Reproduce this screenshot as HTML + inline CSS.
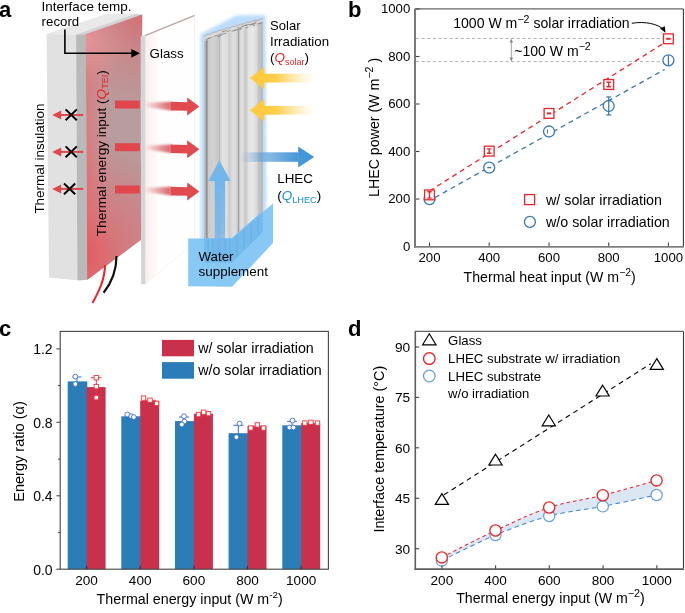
<!DOCTYPE html>
<html><head><meta charset="utf-8"><style>
html,body{margin:0;padding:0;background:#fff;overflow:hidden;}
svg{display:block;font-family:"Liberation Sans", sans-serif;will-change:transform;}
</style></head><body>
<svg width="685" height="613" viewBox="0 0 685 613">
<defs>
<radialGradient id="heatTR" gradientUnits="userSpaceOnUse" cx="142" cy="18" r="95">
  <stop offset="0" stop-color="#d9646a" stop-opacity="0.75"/>
  <stop offset="0.5" stop-color="#dc7074" stop-opacity="0.35"/>
  <stop offset="1" stop-color="#dc7074" stop-opacity="0"/>
</radialGradient>
<radialGradient id="heatBL" gradientUnits="userSpaceOnUse" cx="86" cy="255" r="120" fx="80" fy="255">
  <stop offset="0" stop-color="#e4585d" stop-opacity="0.95"/>
  <stop offset="0.4" stop-color="#e4646a" stop-opacity="0.55"/>
  <stop offset="1" stop-color="#e4646a" stop-opacity="0"/>
</radialGradient>
<linearGradient id="heatL" gradientUnits="userSpaceOnUse" x1="86" y1="0" x2="112" y2="0">
  <stop offset="0" stop-color="#e27074" stop-opacity="0.75"/>
  <stop offset="1" stop-color="#e08488" stop-opacity="0"/>
</linearGradient>
<radialGradient id="heatTL" gradientUnits="userSpaceOnUse" cx="88" cy="40" r="45">
  <stop offset="0" stop-color="#e6a9ab" stop-opacity="0.85"/>
  <stop offset="1" stop-color="#e3a3a5" stop-opacity="0"/>
</radialGradient>
<linearGradient id="fib" gradientUnits="userSpaceOnUse" x1="203.6" y1="0" x2="262.8" y2="0">
  <stop offset="0.0000" stop-color="#bdbdbd"/>
  <stop offset="0.0321" stop-color="#b0b0b0"/>
  <stop offset="0.0507" stop-color="#8e8e8e"/>
  <stop offset="0.0693" stop-color="#a8a8a8"/>
  <stop offset="0.0828" stop-color="#cbcbcb"/>
  <stop offset="0.1757" stop-color="#d2d2d2"/>
  <stop offset="0.2500" stop-color="#c6c6c6"/>
  <stop offset="0.2703" stop-color="#bbbbbb"/>
  <stop offset="0.2872" stop-color="#d6d6d6"/>
  <stop offset="0.3277" stop-color="#e2e2e2"/>
  <stop offset="0.4054" stop-color="#dcdcdc"/>
  <stop offset="0.4291" stop-color="#c8c8c8"/>
  <stop offset="0.4561" stop-color="#d4d4d4"/>
  <stop offset="0.5135" stop-color="#e0e0e0"/>
  <stop offset="0.5709" stop-color="#cfcfcf"/>
  <stop offset="0.5895" stop-color="#9c9c9c"/>
  <stop offset="0.6064" stop-color="#c8c8c8"/>
  <stop offset="0.6318" stop-color="#e2e2e2"/>
  <stop offset="0.6740" stop-color="#dadada"/>
  <stop offset="0.6993" stop-color="#c9c9c9"/>
  <stop offset="0.7331" stop-color="#d0d0d0"/>
  <stop offset="0.7584" stop-color="#e4e4e4"/>
  <stop offset="0.8345" stop-color="#e8e8e8"/>
  <stop offset="0.9020" stop-color="#d8d8d8"/>
  <stop offset="0.9274" stop-color="#c4c4c4"/>
  <stop offset="0.9696" stop-color="#bdbdbd"/>
  <stop offset="1.0000" stop-color="#b5b5b5"/>
</linearGradient>
<linearGradient id="yarr" x1="0" y1="0" x2="1" y2="0">
  <stop offset="0" stop-color="#fdca40"/>
  <stop offset="0.25" stop-color="#fdcf4c"/>
  <stop offset="1" stop-color="#ffe9a8" stop-opacity="0"/>
</linearGradient>
<linearGradient id="barr" x1="0" y1="0" x2="1" y2="0">
  <stop offset="0" stop-color="#4c98d8" stop-opacity="0"/>
  <stop offset="0.45" stop-color="#4c98d8" stop-opacity="0.65"/>
  <stop offset="1" stop-color="#4596d6"/>
</linearGradient>
<linearGradient id="rarr" x1="0" y1="0" x2="1" y2="0">
  <stop offset="0" stop-color="#e0474d" stop-opacity="0"/>
  <stop offset="0.6" stop-color="#d9555a" stop-opacity="0.9"/>
  <stop offset="1" stop-color="#e0474d"/>
</linearGradient>
<linearGradient id="uparr" x1="0" y1="1" x2="0" y2="0">
  <stop offset="0" stop-color="#72b4e9" stop-opacity="0.25"/>
  <stop offset="0.35" stop-color="#72b4e9" stop-opacity="0.8"/>
  <stop offset="1" stop-color="#74b6ea"/>
</linearGradient>
<filter id="blur3" x="-30%" y="-30%" width="160%" height="160%"><feGaussianBlur stdDeviation="3"/></filter>
<filter id="blur2" x="-30%" y="-30%" width="160%" height="160%"><feGaussianBlur stdDeviation="2"/></filter>
<linearGradient id="glasshaze" x1="0" y1="0" x2="1" y2="0">
  <stop offset="0" stop-color="#e8a0a0" stop-opacity="0.18"/>
  <stop offset="0.3" stop-color="#f0b0b0" stop-opacity="0.0"/>
  <stop offset="1" stop-color="#fff" stop-opacity="0"/>
</linearGradient>
<filter id="blur15" x="-30%" y="-30%" width="160%" height="160%"><feGaussianBlur stdDeviation="1.6"/></filter>
<filter id="blur08" x="-30%" y="-60%" width="160%" height="220%"><feGaussianBlur stdDeviation="0.9"/></filter>
<linearGradient id="rarr2" x1="0" y1="0" x2="1" y2="0">
  <stop offset="0" stop-color="#e08a8e" stop-opacity="0.15"/>
  <stop offset="0.5" stop-color="#d46e72" stop-opacity="0.6"/>
  <stop offset="1" stop-color="#d8575c" stop-opacity="0.95"/>
</linearGradient>
<filter id="blur1" x="-30%" y="-30%" width="160%" height="160%"><feGaussianBlur stdDeviation="1"/></filter>
</defs>
<text x="-1" y="16.7" font-size="22" text-anchor="start" fill="#000" font-weight="bold" >a</text>
<polygon points="46.4,33.9 107.4,13.6 134.7,13.6 76.1,34.6" fill="#e9e9e9"/>
<polygon points="46.6,33.9 76.4,34.6 77.4,280.2 49,277.6" fill="#e1e1e1"/>
<polygon points="76.1,34.6 134.7,13.8 142.2,14.4 85.8,34.2" fill="#d3d3d3"/>
<polygon points="76.1,34.6 85.8,34.2 87.3,279.7 77.4,280.6" fill="#b9b9b9"/>
<polygon points="85.8,34.2 142.2,14.4 141.5,239.6 87.3,279.7" fill="#b89c9e"/>
<polygon points="85.8,34.2 142.2,14.4 141.5,239.6 87.3,279.7" fill="url(#heatL)"/>
<polygon points="85.8,34.2 142.2,14.4 141.5,239.6 87.3,279.7" fill="url(#heatBL)"/>
<polygon points="85.8,34.2 142.2,14.4 141.5,239.6 87.3,279.7" fill="url(#heatTL)"/>
<polygon points="85.8,34.2 142.2,14.4 141.5,239.6 87.3,279.7" fill="url(#heatTR)"/>
<path d="M105,265 C104.8,280 98.5,292 92.5,303" stroke="#e8262b" stroke-width="2.1" fill="none"/>
<path d="M116.5,256 C116.5,272 110.5,284 103.6,292.8" stroke="#111" stroke-width="2.2" fill="none"/>
<polygon points="145.4,35 194.6,15.4 194.6,242.8 145.4,284" fill="#fffefe"/>
<polygon points="145.4,35 194.6,15.4 194.6,242.8 145.4,284" fill="url(#glasshaze)"/>
<line x1="145" y1="35.6" x2="194.8" y2="15.4" stroke="#bda5a5" stroke-width="1.3"/>
<line x1="194.6" y1="15.4" x2="194.6" y2="242.8" stroke="#f5e4e4" stroke-width="0.7"/>
<line x1="145.4" y1="284" x2="194.6" y2="242.8" stroke="#eee" stroke-width="0.6"/>
<polygon points="140.6,36.4 145.4,35 145.4,284.2 141.2,284.2" fill="#d5d5d5"/>
<line x1="83.2" y1="115" x2="59" y2="115" stroke="#e0474d" stroke-width="2"/>
<polygon points="52.2,115 61.2,110.5 61.2,119.5" fill="#e0474d"/>
<line x1="83.2" y1="151.9" x2="59" y2="151.9" stroke="#e0474d" stroke-width="2"/>
<polygon points="52.2,151.9 61.2,147.4 61.2,156.4" fill="#e0474d"/>
<line x1="83.2" y1="188.9" x2="59" y2="188.9" stroke="#e0474d" stroke-width="2"/>
<polygon points="52.2,188.9 61.2,184.4 61.2,193.4" fill="#e0474d"/>
<path d="M65.60000000000001,109.39999999999999 L76.8,120.2 M76.8,109.39999999999999 L65.60000000000001,120.2" stroke="#000" stroke-width="2"/>
<path d="M65.60000000000001,146.4 L76.8,157.20000000000002 M76.8,146.4 L65.60000000000001,157.20000000000002" stroke="#000" stroke-width="2"/>
<path d="M63.99999999999999,183.5 L75.19999999999999,194.3 M75.19999999999999,183.5 L63.99999999999999,194.3" stroke="#000" stroke-width="2"/>
<rect x="115" y="100.5" width="24.8" height="8" fill="#e0474d"/>
<polygon points="145.5,102.7 171,101.8 171,110.39999999999999 145.5,106.9" fill="url(#rarr2)" filter="url(#blur08)"/>
<polygon points="170.5,101.8 187.8,102.2 187.8,110.8 170.5,110.39999999999999" fill="#e04a4f"/>
<polygon points="187.2,97.5 199.4,106.5 187.2,115.5" fill="#e04a4f"/>
<rect x="115" y="143.2" width="24.8" height="8" fill="#e0474d"/>
<polygon points="145.5,145.39999999999998 171,144.49999999999997 171,153.1 145.5,149.6" fill="url(#rarr2)" filter="url(#blur08)"/>
<polygon points="170.5,144.49999999999997 187.8,144.89999999999998 187.8,153.5 170.5,153.1" fill="#e04a4f"/>
<polygon points="187.2,140.2 199.4,149.2 187.2,158.2" fill="#e04a4f"/>
<rect x="115" y="185.5" width="24.8" height="8" fill="#e0474d"/>
<polygon points="145.5,187.7 171,186.79999999999998 171,195.4 145.5,191.9" fill="url(#rarr2)" filter="url(#blur08)"/>
<polygon points="170.5,186.79999999999998 187.8,187.2 187.8,195.8 170.5,195.4" fill="#e04a4f"/>
<polygon points="187.2,182.5 199.4,191.5 187.2,200.5" fill="#e04a4f"/>
<path d="M200.5,34 L236,15.5 L265.5,15 L266.5,245 L200.5,245 Z" fill="#bcdcfa" filter="url(#blur15)"/>
<polygon points="204.2,36.5 207,34.5 210,34 213,32.2 216,32 219,30.2 223,30 226,28.3 230,28 233,26.3 237,26 240,24.3 244,24 247,22.3 251,22 254,20.5 258,20.2 262.8,18.6 262.8,212 232,240 204.2,240" fill="url(#fib)"/>
<polygon points="204.2,36.5 207,34.5 210,34 213,32.2 216,32 219,30.2 223,30 226,28.3 230,28 233,26.3 237,26 240,24.3 244,24 247,22.3 251,22 254,20.5 258,20.2 262.8,18.6 262.8,23 204.2,41" fill="#d9d9d9"/>
<path d="M218.3,34.8 l3.1,-0.9 M238.8,28.9 l2.2,-0.7 M205.7,39.7 l2.8,-0.8 M218.1,36.4 l3.4,-1.0 M251.8,24.4 l3.9,-1.2 M213.4,36.6 l4.6,-1.4 M234.3,30.6 l4.0,-1.2 M208.6,38.5 l3.8,-1.1 M221.9,32.0 l4.6,-1.4 M231.5,31.4 l4.6,-1.4 M245.0,28.0 l3.2,-1.0 M249.9,24.9 l4.8,-1.4 M254.2,22.4 l2.4,-0.7 M217.2,36.6 l3.3,-1.0 M240.1,27.4 l3.5,-1.1 M226.6,31.6 l3.8,-1.1 M237.7,30.1 l4.0,-1.2 M257.0,24.1 l5.0,-1.5 M242.6,26.1 l4.6,-1.4 M259.0,23.6 l3.7,-1.1 M245.0,25.6 l4.5,-1.3 M237.1,28.2 l2.2,-0.7 M252.8,25.8 l2.3,-0.7 M249.8,24.8 l2.5,-0.7 M221.5,34.6 l4.6,-1.4 M207.5,38.4 l2.1,-0.6" stroke="#7a7a7a" stroke-width="0.7" fill="none"/>
<polyline points="204.2,36.5 207,34.5 210,34 213,32.2 216,32 219,30.2 223,30 226,28.3 230,28 233,26.3 237,26 240,24.3 244,24 247,22.3 251,22 254,20.5 258,20.2 262.8,18.6" stroke="#9a9a9a" stroke-width="0.6" fill="none"/>
<polygon points="188.2,238.6 232,238.6 273,203.6 273,243 232,286.8 188.2,286.3" fill="#88c8f4"/>
<polygon points="204.2,238.6 232,238.6 262.8,212 262.8,232 232,262.5 204.2,262.5" fill="#6cb3ea" fill-opacity="0.7"/>
<path d="M208,262.5 V238.6 M213,262.5 V238.6 M219,262.5 V238.6 M225,262.5 V238.6 M230,262.5 V238.6 M237,257 V234 M244,249 V228 M251,242 V222 M258,236 V216" stroke="#5aa6e2" stroke-width="1.2" stroke-opacity="0.5"/>
<polyline points="204.2,238.6 232,238.6 262.8,212" stroke="#7ec0f0" stroke-width="1.2" fill="none"/>
<rect x="214.7" y="180" width="10.4" height="82" fill="url(#uparr)"/>
<polygon points="208.2,181 219.4,160.5 230.6,181" fill="#74b6ea"/>
<rect x="264" y="73.69999999999999" width="52" height="8.8" fill="url(#yarr)"/>
<polygon points="249.9,78.1 264.3,66.89999999999999 264.3,89.3" fill="#fdca40"/>
<rect x="264" y="105.89999999999999" width="52" height="8.8" fill="url(#yarr)"/>
<polygon points="249.9,110.3 264.3,99.1 264.3,121.5" fill="#fdca40"/>
<rect x="240" y="152.3" width="58.5" height="9.5" fill="url(#barr)"/>
<polygon points="298.2,146.6 314.3,157 298.2,167.4" fill="#4596d6"/>
<path d="M64.9,29.5 L64.9,53.3 L132,53.3" stroke="#000" stroke-width="1.6" fill="none"/>
<polygon points="131.3,48.9 139.8,53.3 131.3,57.7" fill="#000"/>
<text x="41.6" y="10.9" font-size="13.5" text-anchor="start" fill="#000" textLength="89.8" lengthAdjust="spacingAndGlyphs" >Interface temp.</text>
<text x="41.6" y="26.4" font-size="13.5" text-anchor="start" fill="#000" textLength="37.6" lengthAdjust="spacingAndGlyphs" >record</text>
<text x="149.6" y="58.1" font-size="13.5" text-anchor="start" fill="#000" textLength="34" lengthAdjust="spacingAndGlyphs" >Glass</text>
<text x="270" y="29.9" font-size="13.5" text-anchor="start" fill="#000" textLength="30.5" lengthAdjust="spacingAndGlyphs" >Solar</text>
<text x="270" y="45.9" font-size="13.5" text-anchor="start" fill="#000" textLength="59.1" lengthAdjust="spacingAndGlyphs" >Irradiation</text>
<text x="270" y="62.3" font-size="13.5">(<tspan fill="#d8262c" font-style="italic">Q</tspan><tspan fill="#d8262c" font-size="9" dy="2.9">solar</tspan><tspan dy="-2.9">)</tspan></text>
<text x="277.2" y="183.2" font-size="13.5" text-anchor="start" fill="#000" textLength="35.7" lengthAdjust="spacingAndGlyphs" >LHEC</text>
<text x="277.2" y="199.7" font-size="13.5">(<tspan fill="#1a8ec8" font-style="italic">Q</tspan><tspan fill="#1a8ec8" font-size="9.2" dy="3.4">LHEC</tspan><tspan dy="-3.4">)</tspan></text>
<text x="198.5" y="261" font-size="13.5" text-anchor="start" fill="#000" textLength="35" lengthAdjust="spacingAndGlyphs" >Water</text>
<text x="198.5" y="275.6" font-size="13.5" text-anchor="start" fill="#000" textLength="69.5" lengthAdjust="spacingAndGlyphs" >supplement</text>
<text transform="translate(43.7,213.6) rotate(-90)" font-size="13.5" textLength="110" lengthAdjust="spacingAndGlyphs">Thermal insulation</text>
<text transform="translate(106.2,236.2) rotate(-90)" font-size="13.6">Thermal energy input (<tspan fill="#e3262c" font-style="italic">Q</tspan><tspan fill="#e3262c" font-size="9" dy="2.2">TEI</tspan><tspan dy="-2.2">)</tspan></text>
<text x="348" y="16.7" font-size="22" text-anchor="start" fill="#000" font-weight="bold" >b</text>
<line x1="416" y1="38.5" x2="664" y2="38.5" stroke="#b0b0b0" stroke-width="1" stroke-dasharray="3,2.6"/>
<line x1="416" y1="61.6" x2="664" y2="61.6" stroke="#b0b0b0" stroke-width="1" stroke-dasharray="3,2.6"/>
<line x1="511.3" y1="40" x2="511.3" y2="60" stroke="#888" stroke-width="0.8"/>
<polygon points="509.6,42.5 511.3,38.6 513,42.5" fill="#888"/>
<polygon points="509.6,57.5 511.3,61.4 513,57.5" fill="#888"/>
<line x1="429.5" y1="191" x2="664" y2="43" stroke="#e8262b" stroke-width="1.3" stroke-dasharray="5,4"/>
<line x1="435" y1="197.5" x2="664.6" y2="69.5" stroke="#3c78b4" stroke-width="1.3" stroke-dasharray="5,4"/>
<circle cx="429.5" cy="199.1" r="5.5" fill="#fff" stroke="#3c78b4" stroke-width="1.3"/>
<circle cx="489.2" cy="167.6" r="5.5" fill="#fff" stroke="#3c78b4" stroke-width="1.3"/>
<circle cx="549.0" cy="131.5" r="5.5" fill="#fff" stroke="#3c78b4" stroke-width="1.3"/>
<circle cx="608.7" cy="106" r="5.5" fill="#fff" stroke="#3c78b4" stroke-width="1.3"/>
<circle cx="668.4" cy="60.3" r="5.5" fill="#fff" stroke="#3c78b4" stroke-width="1.3"/>
<line x1="608.7" y1="96.9" x2="608.7" y2="115" stroke="#3c78b4" stroke-width="1.2"/>
<line x1="606.2" y1="96.9" x2="611.2" y2="96.9" stroke="#3c78b4" stroke-width="1.2"/>
<line x1="606.2" y1="115" x2="611.2" y2="115" stroke="#3c78b4" stroke-width="1.2"/>
<line x1="668.4" y1="55" x2="668.4" y2="65.5" stroke="#3c78b4" stroke-width="1.2"/>
<line x1="547.5" y1="129.5" x2="547.5" y2="133.5" stroke="#3c78b4" stroke-width="1"/>
<line x1="487.2" y1="167.6" x2="491.2" y2="167.6" stroke="#3c78b4" stroke-width="1.4"/>
<rect x="424.6" y="190.0" width="9.8" height="9.8" fill="#fff" stroke="#e8262b" stroke-width="1.3"/>
<rect x="484.3" y="146.2" width="9.8" height="9.8" fill="#fff" stroke="#e8262b" stroke-width="1.3"/>
<rect x="544.1" y="108.5" width="9.8" height="9.8" fill="#fff" stroke="#e8262b" stroke-width="1.3"/>
<rect x="603.8" y="79.6" width="9.8" height="9.8" fill="#fff" stroke="#e8262b" stroke-width="1.3"/>
<rect x="663.5" y="33.9" width="9.8" height="9.8" fill="#fff" stroke="#e8262b" stroke-width="1.3"/>
<path d="M429.5,191.70000000000002 V198.1 M427.3,191.70000000000002 H431.7 M427.3,198.1 H431.7" stroke="#e8262b" stroke-width="1.4"/>
<path d="M489.2,148.9 V153.29999999999998 M487.0,148.9 H491.4 M487.0,153.29999999999998 H491.4" stroke="#e8262b" stroke-width="1.4"/>
<path d="M608.7,82.3 V86.7 M606.5,82.3 H610.9 M606.5,86.7 H610.9" stroke="#e8262b" stroke-width="1.4"/>
<rect x="546.8" y="112.4" width="4.4" height="2" fill="#e8262b"/>
<rect x="666.2" y="37.8" width="4.4" height="2" fill="#e8262b"/>
<path d="M631.8,23.3 C645,21 658,24 663.5,29.5" stroke="#000" stroke-width="1" fill="none"/>
<polygon points="660,28.5 665.5,32.8 664.8,26.2" fill="#000"/>
<line x1="415" y1="8.9" x2="683.4" y2="8.9" stroke="#666" stroke-width="1.3"/>
<line x1="683.4" y1="8.9" x2="683.4" y2="246.8" stroke="#3a3a3a" stroke-width="1.1"/>
<line x1="415" y1="8.4" x2="415" y2="247.7" stroke="#7a7a7a" stroke-width="2"/>
<line x1="414" y1="246.8" x2="683.9" y2="246.8" stroke="#7f7f7f" stroke-width="1.8"/>
<line x1="416" y1="199.0" x2="419.5" y2="199.0" stroke="#444" stroke-width="1.1"/>
<line x1="429.5" y1="246" x2="429.5" y2="242.5" stroke="#444" stroke-width="1.1"/>
<line x1="416" y1="151.5" x2="419.5" y2="151.5" stroke="#444" stroke-width="1.1"/>
<line x1="489.2" y1="246" x2="489.2" y2="242.5" stroke="#444" stroke-width="1.1"/>
<line x1="416" y1="104.0" x2="419.5" y2="104.0" stroke="#444" stroke-width="1.1"/>
<line x1="549.0" y1="246" x2="549.0" y2="242.5" stroke="#444" stroke-width="1.1"/>
<line x1="416" y1="56.5" x2="419.5" y2="56.5" stroke="#444" stroke-width="1.1"/>
<line x1="608.7" y1="246" x2="608.7" y2="242.5" stroke="#444" stroke-width="1.1"/>
<line x1="416" y1="9.0" x2="419.5" y2="9.0" stroke="#444" stroke-width="1.1"/>
<line x1="668.4" y1="246" x2="668.4" y2="242.5" stroke="#444" stroke-width="1.1"/>
<text x="410.3" y="250.6" font-size="13.2" text-anchor="end" fill="#000" >0</text>
<text x="410.3" y="203.1" font-size="13.2" text-anchor="end" fill="#000" >200</text>
<text x="410.3" y="155.6" font-size="13.2" text-anchor="end" fill="#000" >400</text>
<text x="410.3" y="108.1" font-size="13.2" text-anchor="end" fill="#000" >600</text>
<text x="410.3" y="60.6" font-size="13.2" text-anchor="end" fill="#000" >800</text>
<text x="410.3" y="13.1" font-size="13.2" text-anchor="end" fill="#000" >1000</text>
<text x="429.5" y="262" font-size="13.2" text-anchor="middle" fill="#000" >200</text>
<text x="489.2" y="262" font-size="13.2" text-anchor="middle" fill="#000" >400</text>
<text x="549.0" y="262" font-size="13.2" text-anchor="middle" fill="#000" >600</text>
<text x="608.7" y="262" font-size="13.2" text-anchor="middle" fill="#000" >800</text>
<text x="668.4" y="262" font-size="13.2" text-anchor="middle" fill="#000" >1000</text>
<text x="0" y="0" transform="translate(378.5,197) rotate(-90)" font-size="14.1" textLength="139.2" lengthAdjust="spacingAndGlyphs">LHEC power (W m<tspan font-size="10.5" dy="-5.8">−2</tspan><tspan dy="5.8"> )</tspan></text>
<text x="463.6" y="281.5" font-size="14.2" textLength="172.2" lengthAdjust="spacingAndGlyphs">Thermal heat input (W m<tspan font-size="10.5" dy="-5.8">−2</tspan><tspan dy="5.8">)</tspan></text>
<text x="453.2" y="28.3" font-size="13.9" textLength="176.5" lengthAdjust="spacingAndGlyphs">1000 W m<tspan font-size="10.5" dy="-5.8">−2</tspan><tspan dy="5.8"> solar irradiation</tspan></text>
<text x="514.2" y="55.8" font-size="13.9" textLength="76.6" lengthAdjust="spacingAndGlyphs">~100 W m<tspan font-size="10.5" dy="-5.8">−2</tspan></text>
<rect x="524.6" y="194.6" width="10" height="10" fill="none" stroke="#e8262b" stroke-width="1.3"/>
<circle cx="529.9" cy="221.9" r="5.5" fill="none" stroke="#3c78b4" stroke-width="1.3"/>
<text x="546" y="205.2" font-size="14.1" text-anchor="start" fill="#000" textLength="116" lengthAdjust="spacingAndGlyphs" >w/ solar irradiation</text>
<text x="546" y="226.9" font-size="14.1" text-anchor="start" fill="#000" textLength="123.8" lengthAdjust="spacingAndGlyphs" >w/o solar irradiation</text>
<text x="-1" y="335.8" font-size="22" text-anchor="start" fill="#000" font-weight="bold" >c</text>
<rect x="67.7" y="381.4" width="19.6" height="187.8" fill="#2a7db6"/>
<rect x="86.6" y="387.1" width="19" height="182.1" fill="#c8304b"/>
<rect x="121.3" y="416.3" width="19.6" height="152.9" fill="#2a7db6"/>
<rect x="140.2" y="400.9" width="19" height="168.3" fill="#c8304b"/>
<rect x="175.0" y="421.1" width="19.6" height="148.1" fill="#2a7db6"/>
<rect x="193.9" y="413.7" width="19" height="155.5" fill="#c8304b"/>
<rect x="228.6" y="433.2" width="19.6" height="136.0" fill="#2a7db6"/>
<rect x="247.5" y="426.2" width="19" height="143.0" fill="#c8304b"/>
<rect x="282.3" y="425.3" width="19.6" height="143.9" fill="#2a7db6"/>
<rect x="301.2" y="423.1" width="19" height="146.1" fill="#c8304b"/>
<line x1="77" y1="377" x2="77" y2="384" stroke="#3f6fd0" stroke-width="1"/>
<line x1="72.5" y1="377" x2="81.5" y2="377" stroke="#3f6fd0" stroke-width="1"/>
<line x1="130.5" y1="414" x2="130.5" y2="418" stroke="#3f6fd0" stroke-width="1"/>
<line x1="184.2" y1="417" x2="184.2" y2="424" stroke="#3f6fd0" stroke-width="1"/>
<line x1="179.1" y1="417" x2="189.3" y2="417" stroke="#3f6fd0" stroke-width="1"/>
<line x1="238.3" y1="425.3" x2="238.3" y2="440" stroke="#3f6fd0" stroke-width="1"/>
<line x1="233.2" y1="425.3" x2="243.4" y2="425.3" stroke="#3f6fd0" stroke-width="1"/>
<line x1="292" y1="421.4" x2="292" y2="428" stroke="#3f6fd0" stroke-width="1"/>
<line x1="287.1" y1="421.4" x2="296.9" y2="421.4" stroke="#3f6fd0" stroke-width="1"/>
<circle cx="75.3" cy="376.6" r="2.4" fill="#fff" stroke="#3f6fd0" stroke-width="0.9"/>
<circle cx="75.3" cy="384" r="2.4" fill="#fff" stroke="#3f6fd0" stroke-width="0.9"/>
<circle cx="127.3" cy="414.5" r="2.4" fill="#fff" stroke="#3f6fd0" stroke-width="0.9"/>
<circle cx="131.2" cy="416.2" r="2.4" fill="#fff" stroke="#3f6fd0" stroke-width="0.9"/>
<circle cx="133.8" cy="417.1" r="2.4" fill="#fff" stroke="#3f6fd0" stroke-width="0.9"/>
<circle cx="184" cy="416.2" r="2.4" fill="#fff" stroke="#3f6fd0" stroke-width="0.9"/>
<circle cx="184.4" cy="421.5" r="2.4" fill="#fff" stroke="#3f6fd0" stroke-width="0.9"/>
<circle cx="181.8" cy="424.5" r="2.4" fill="#fff" stroke="#3f6fd0" stroke-width="0.9"/>
<circle cx="239.5" cy="423.6" r="2.4" fill="#fff" stroke="#3f6fd0" stroke-width="0.9"/>
<circle cx="236.4" cy="437.1" r="2.4" fill="#fff" stroke="#3f6fd0" stroke-width="0.9"/>
<circle cx="292.5" cy="420.5" r="2.4" fill="#fff" stroke="#3f6fd0" stroke-width="0.9"/>
<circle cx="289.4" cy="427.5" r="2.4" fill="#fff" stroke="#3f6fd0" stroke-width="0.9"/>
<circle cx="293.4" cy="427.5" r="2.4" fill="#fff" stroke="#3f6fd0" stroke-width="0.9"/>
<line x1="96.3" y1="377.7" x2="96.3" y2="397.6" stroke="#f0363c" stroke-width="1"/>
<line x1="91.0" y1="377.7" x2="101.6" y2="377.7" stroke="#f0363c" stroke-width="1"/>
<line x1="91.0" y1="397.6" x2="101.6" y2="397.6" stroke="#f0363c" stroke-width="1"/>
<line x1="144" y1="400.3" x2="156" y2="400.3" stroke="#f0363c" stroke-width="1"/>
<line x1="199.7" y1="413.5" x2="207.7" y2="413.5" stroke="#f0363c" stroke-width="1"/>
<line x1="253.39999999999998" y1="426" x2="261.4" y2="426" stroke="#f0363c" stroke-width="1"/>
<line x1="307.9" y1="423" x2="313.9" y2="423" stroke="#f0363c" stroke-width="1"/>
<rect x="94.1" y="375.5" width="4.4" height="4.4" fill="#fff" stroke="#f0363c" stroke-width="0.9"/>
<rect x="94.1" y="384.40000000000003" width="4.4" height="4.4" fill="#fff" stroke="#f0363c" stroke-width="0.9"/>
<rect x="94.1" y="395.40000000000003" width="4.4" height="4.4" fill="#fff" stroke="#f0363c" stroke-width="0.9"/>
<rect x="141.3" y="395.90000000000003" width="4.4" height="4.4" fill="#fff" stroke="#f0363c" stroke-width="0.9"/>
<rect x="147.8" y="398.1" width="4.4" height="4.4" fill="#fff" stroke="#f0363c" stroke-width="0.9"/>
<rect x="154.4" y="401.2" width="4.4" height="4.4" fill="#fff" stroke="#f0363c" stroke-width="0.9"/>
<rect x="196.3" y="412.3" width="4.4" height="4.4" fill="#fff" stroke="#f0363c" stroke-width="0.9"/>
<rect x="201.5" y="410.1" width="4.4" height="4.4" fill="#fff" stroke="#f0363c" stroke-width="0.9"/>
<rect x="206.3" y="411.40000000000003" width="4.4" height="4.4" fill="#fff" stroke="#f0363c" stroke-width="0.9"/>
<rect x="248.60000000000002" y="425.8" width="4.4" height="4.4" fill="#fff" stroke="#f0363c" stroke-width="0.9"/>
<rect x="255.2" y="422.7" width="4.4" height="4.4" fill="#fff" stroke="#f0363c" stroke-width="0.9"/>
<rect x="261.3" y="425.8" width="4.4" height="4.4" fill="#fff" stroke="#f0363c" stroke-width="0.9"/>
<rect x="302.6" y="420.90000000000003" width="4.4" height="4.4" fill="#fff" stroke="#f0363c" stroke-width="0.9"/>
<rect x="308.7" y="420.1" width="4.4" height="4.4" fill="#fff" stroke="#f0363c" stroke-width="0.9"/>
<rect x="315.3" y="420.90000000000003" width="4.4" height="4.4" fill="#fff" stroke="#f0363c" stroke-width="0.9"/>
<rect x="60.2" y="331.4" width="268.2" height="237.80000000000007" fill="none" stroke="#4a4a4a" stroke-width="1.15"/>
<line x1="56.400000000000006" y1="569.2" x2="60.2" y2="569.2" stroke="#4a4a4a" stroke-width="1.1"/>
<line x1="58.0" y1="532.5" x2="60.2" y2="532.5" stroke="#4a4a4a" stroke-width="1.1"/>
<line x1="56.400000000000006" y1="495.8" x2="60.2" y2="495.8" stroke="#4a4a4a" stroke-width="1.1"/>
<line x1="58.0" y1="459.1" x2="60.2" y2="459.1" stroke="#4a4a4a" stroke-width="1.1"/>
<line x1="56.400000000000006" y1="422.3" x2="60.2" y2="422.3" stroke="#4a4a4a" stroke-width="1.1"/>
<line x1="58.0" y1="385.6" x2="60.2" y2="385.6" stroke="#4a4a4a" stroke-width="1.1"/>
<line x1="56.400000000000006" y1="348.9" x2="60.2" y2="348.9" stroke="#4a4a4a" stroke-width="1.1"/>
<line x1="86.6" y1="569.2" x2="86.6" y2="565.7" stroke="#333" stroke-width="1.1"/>
<line x1="140.2" y1="569.2" x2="140.2" y2="565.7" stroke="#333" stroke-width="1.1"/>
<line x1="193.9" y1="569.2" x2="193.9" y2="565.7" stroke="#333" stroke-width="1.1"/>
<line x1="247.5" y1="569.2" x2="247.5" y2="565.7" stroke="#333" stroke-width="1.1"/>
<line x1="301.2" y1="569.2" x2="301.2" y2="565.7" stroke="#333" stroke-width="1.1"/>
<text x="52.6" y="574.5" font-size="14" text-anchor="end" fill="#000" >0.0</text>
<text x="52.6" y="501.1" font-size="14" text-anchor="end" fill="#000" >0.4</text>
<text x="52.6" y="427.6" font-size="14" text-anchor="end" fill="#000" >0.8</text>
<text x="52.6" y="354.2" font-size="14" text-anchor="end" fill="#000" >1.2</text>
<text x="86.6" y="585.3" font-size="13.6" text-anchor="middle" fill="#000" >200</text>
<text x="140.2" y="585.3" font-size="13.6" text-anchor="middle" fill="#000" >400</text>
<text x="193.9" y="585.3" font-size="13.6" text-anchor="middle" fill="#000" >600</text>
<text x="247.5" y="585.3" font-size="13.6" text-anchor="middle" fill="#000" >800</text>
<text x="301.2" y="585.3" font-size="13.6" text-anchor="middle" fill="#000" >1000</text>
<text x="0" y="0" transform="translate(24.1,501.8) rotate(-90)" font-size="13.9" textLength="100.6" lengthAdjust="spacingAndGlyphs">Energy ratio (α)</text>
<text x="96.6" y="603.7" font-size="14" textLength="186.2" lengthAdjust="spacingAndGlyphs">Thermal energy input (W m<tspan font-size="9.8" dy="-5.5">-2</tspan><tspan dy="5.5">)</tspan></text>
<rect x="162" y="339.9" width="32" height="16.4" fill="#c8304b"/>
<rect x="162" y="362.1" width="32" height="16.6" fill="#2a7db6"/>
<text x="198.2" y="353.3" font-size="14.1" text-anchor="start" fill="#000" textLength="115.6" lengthAdjust="spacingAndGlyphs" >w/ solar irradiation</text>
<text x="198.2" y="375.2" font-size="14.1" text-anchor="start" fill="#000" textLength="123.6" lengthAdjust="spacingAndGlyphs" >w/o solar irradiation</text>
<text x="348" y="335.8" font-size="22" text-anchor="start" fill="#000" font-weight="bold" >d</text>
<path d="M441.8,557.4 C450.8,552.9 477.6,538.8 495.5,530.5 C513.4,522.2 531.3,513.4 549.2,507.5 C567.1,501.6 584.9,499.7 602.8,495.2 C620.7,490.7 647.6,482.9 656.6,480.4 L656.6,495 C647.6,496.9 620.7,502.9 602.8,506.4 C584.9,509.9 567.1,511.2 549.2,516 C531.3,520.8 513.4,527.6 495.5,535 C477.6,542.4 450.8,556.3 441.8,560.6 Z" fill="#dce7f4"/>
<path d="M441.8,557.4 C450.8,552.9 477.6,538.8 495.5,530.5 C513.4,522.2 531.3,513.4 549.2,507.5 C567.1,501.6 584.9,499.7 602.8,495.2 C620.7,490.7 647.6,482.9 656.6,480.4" stroke="#e8262b" stroke-width="1.05" fill="none" stroke-dasharray="3.5,3"/>
<path d="M441.8,560.6 C450.8,556.3 477.6,542.4 495.5,535 C513.4,527.6 531.3,520.8 549.2,516 C567.1,511.2 584.9,509.9 602.8,506.4 C620.7,502.9 647.6,496.9 656.6,495" stroke="#4a86c8" stroke-width="1.05" fill="none" stroke-dasharray="4.5,3.5"/>
<line x1="444" y1="494.8" x2="651" y2="363.6" stroke="#000" stroke-width="1.1" stroke-dasharray="5,4"/>
<circle cx="441.8" cy="560.6" r="5.6" fill="#fff" stroke="#6a9fd8" stroke-width="1.2"/>
<circle cx="495.5" cy="535" r="5.6" fill="#fff" stroke="#6a9fd8" stroke-width="1.2"/>
<circle cx="549.2" cy="516" r="5.6" fill="#fff" stroke="#6a9fd8" stroke-width="1.2"/>
<circle cx="602.8" cy="506.4" r="5.6" fill="#fff" stroke="#6a9fd8" stroke-width="1.2"/>
<circle cx="656.6" cy="495" r="5.6" fill="#fff" stroke="#6a9fd8" stroke-width="1.2"/>
<circle cx="441.8" cy="557.4" r="5.6" fill="#fff" stroke="#e8262b" stroke-width="1.35"/>
<circle cx="495.5" cy="530.5" r="5.6" fill="#fff" stroke="#e8262b" stroke-width="1.35"/>
<circle cx="549.2" cy="507.5" r="5.6" fill="#fff" stroke="#e8262b" stroke-width="1.35"/>
<circle cx="602.8" cy="495.2" r="5.6" fill="#fff" stroke="#e8262b" stroke-width="1.35"/>
<circle cx="656.6" cy="480.4" r="5.6" fill="#fff" stroke="#e8262b" stroke-width="1.35"/>
<polygon points="441.9,493.6 448.5,504.40000000000003 435.29999999999995,504.40000000000003" fill="#fff" stroke="#000" stroke-width="1.2"/>
<polygon points="495.5,454.2 502.1,465.0 488.9,465.0" fill="#fff" stroke="#000" stroke-width="1.2"/>
<polygon points="548.8,415 555.4,425.8 542.1999999999999,425.8" fill="#fff" stroke="#000" stroke-width="1.2"/>
<polygon points="602.6,385.2 609.2,396.0 596.0,396.0" fill="#fff" stroke="#000" stroke-width="1.2"/>
<polygon points="656.8,358.6 663.4,369.40000000000003 650.1999999999999,369.40000000000003" fill="#fff" stroke="#000" stroke-width="1.2"/>
<line x1="415.3" y1="331.4" x2="683.5" y2="331.4" stroke="#666" stroke-width="1.3"/>
<line x1="683.5" y1="331.4" x2="683.5" y2="568.7" stroke="#3a3a3a" stroke-width="1.1"/>
<line x1="415.3" y1="330.9" x2="415.3" y2="569.9000000000001" stroke="#5e5e5e" stroke-width="1.6"/>
<line x1="414.5" y1="569.1" x2="684.0" y2="569.1" stroke="#5e5e5e" stroke-width="1.6"/>
<line x1="415.3" y1="548.7" x2="419.1" y2="548.7" stroke="#444" stroke-width="1.1"/>
<text x="410.2" y="553.7" font-size="13.7" text-anchor="end" fill="#000" >30</text>
<line x1="415.3" y1="498.3" x2="419.1" y2="498.3" stroke="#444" stroke-width="1.1"/>
<text x="410.2" y="503.3" font-size="13.7" text-anchor="end" fill="#000" >45</text>
<line x1="415.3" y1="447.8" x2="419.1" y2="447.8" stroke="#444" stroke-width="1.1"/>
<text x="410.2" y="452.8" font-size="13.7" text-anchor="end" fill="#000" >60</text>
<line x1="415.3" y1="397.4" x2="419.1" y2="397.4" stroke="#444" stroke-width="1.1"/>
<text x="410.2" y="402.4" font-size="13.7" text-anchor="end" fill="#000" >75</text>
<line x1="415.3" y1="347.0" x2="419.1" y2="347.0" stroke="#444" stroke-width="1.1"/>
<text x="410.2" y="352.0" font-size="13.7" text-anchor="end" fill="#000" >90</text>
<line x1="441.9" y1="568.7" x2="441.9" y2="565.2" stroke="#444" stroke-width="1.1"/>
<text x="441.9" y="585" font-size="13.6" text-anchor="middle" fill="#000" >200</text>
<line x1="495.6" y1="568.7" x2="495.6" y2="565.2" stroke="#444" stroke-width="1.1"/>
<text x="495.6" y="585" font-size="13.6" text-anchor="middle" fill="#000" >400</text>
<line x1="549.3" y1="568.7" x2="549.3" y2="565.2" stroke="#444" stroke-width="1.1"/>
<text x="549.3" y="585" font-size="13.6" text-anchor="middle" fill="#000" >600</text>
<line x1="603.1" y1="568.7" x2="603.1" y2="565.2" stroke="#444" stroke-width="1.1"/>
<text x="603.1" y="585" font-size="13.6" text-anchor="middle" fill="#000" >800</text>
<line x1="656.8" y1="568.7" x2="656.8" y2="565.2" stroke="#444" stroke-width="1.1"/>
<text x="656.8" y="585" font-size="13.6" text-anchor="middle" fill="#000" >1000</text>
<text x="0" y="0" transform="translate(384.3,532.6) rotate(-90)" font-size="13.8" textLength="166.8" lengthAdjust="spacingAndGlyphs">Interface temperature (°C)</text>
<text x="456.2" y="602.9" font-size="13.8" textLength="188.6" lengthAdjust="spacingAndGlyphs">Thermal energy input (W m<tspan font-size="10.5" dy="-5.8">−2</tspan><tspan dy="5.8">)</tspan></text>
<polygon points="429.3,333.8 436,344.8 422.6,344.8" fill="#fff" stroke="#000" stroke-width="1.2"/>
<circle cx="429.3" cy="358.6" r="5.8" fill="none" stroke="#e8262b" stroke-width="1.4"/>
<circle cx="429.3" cy="376" r="5.8" fill="none" stroke="#6a9fd8" stroke-width="1.3"/>
<text x="448.1" y="345.3" font-size="13" text-anchor="start" fill="#000" textLength="33.8" lengthAdjust="spacingAndGlyphs" >Glass</text>
<text x="448.1" y="363.1" font-size="13" text-anchor="start" fill="#000" textLength="172.2" lengthAdjust="spacingAndGlyphs" >LHEC substrate w/ irradiation</text>
<text x="448.1" y="380.9" font-size="13" text-anchor="start" fill="#000" textLength="93" lengthAdjust="spacingAndGlyphs" >LHEC substrate</text>
<text x="448.1" y="398.3" font-size="13" text-anchor="start" fill="#000" textLength="81.3" lengthAdjust="spacingAndGlyphs" >w/o irradiation</text>
</svg></body></html>
